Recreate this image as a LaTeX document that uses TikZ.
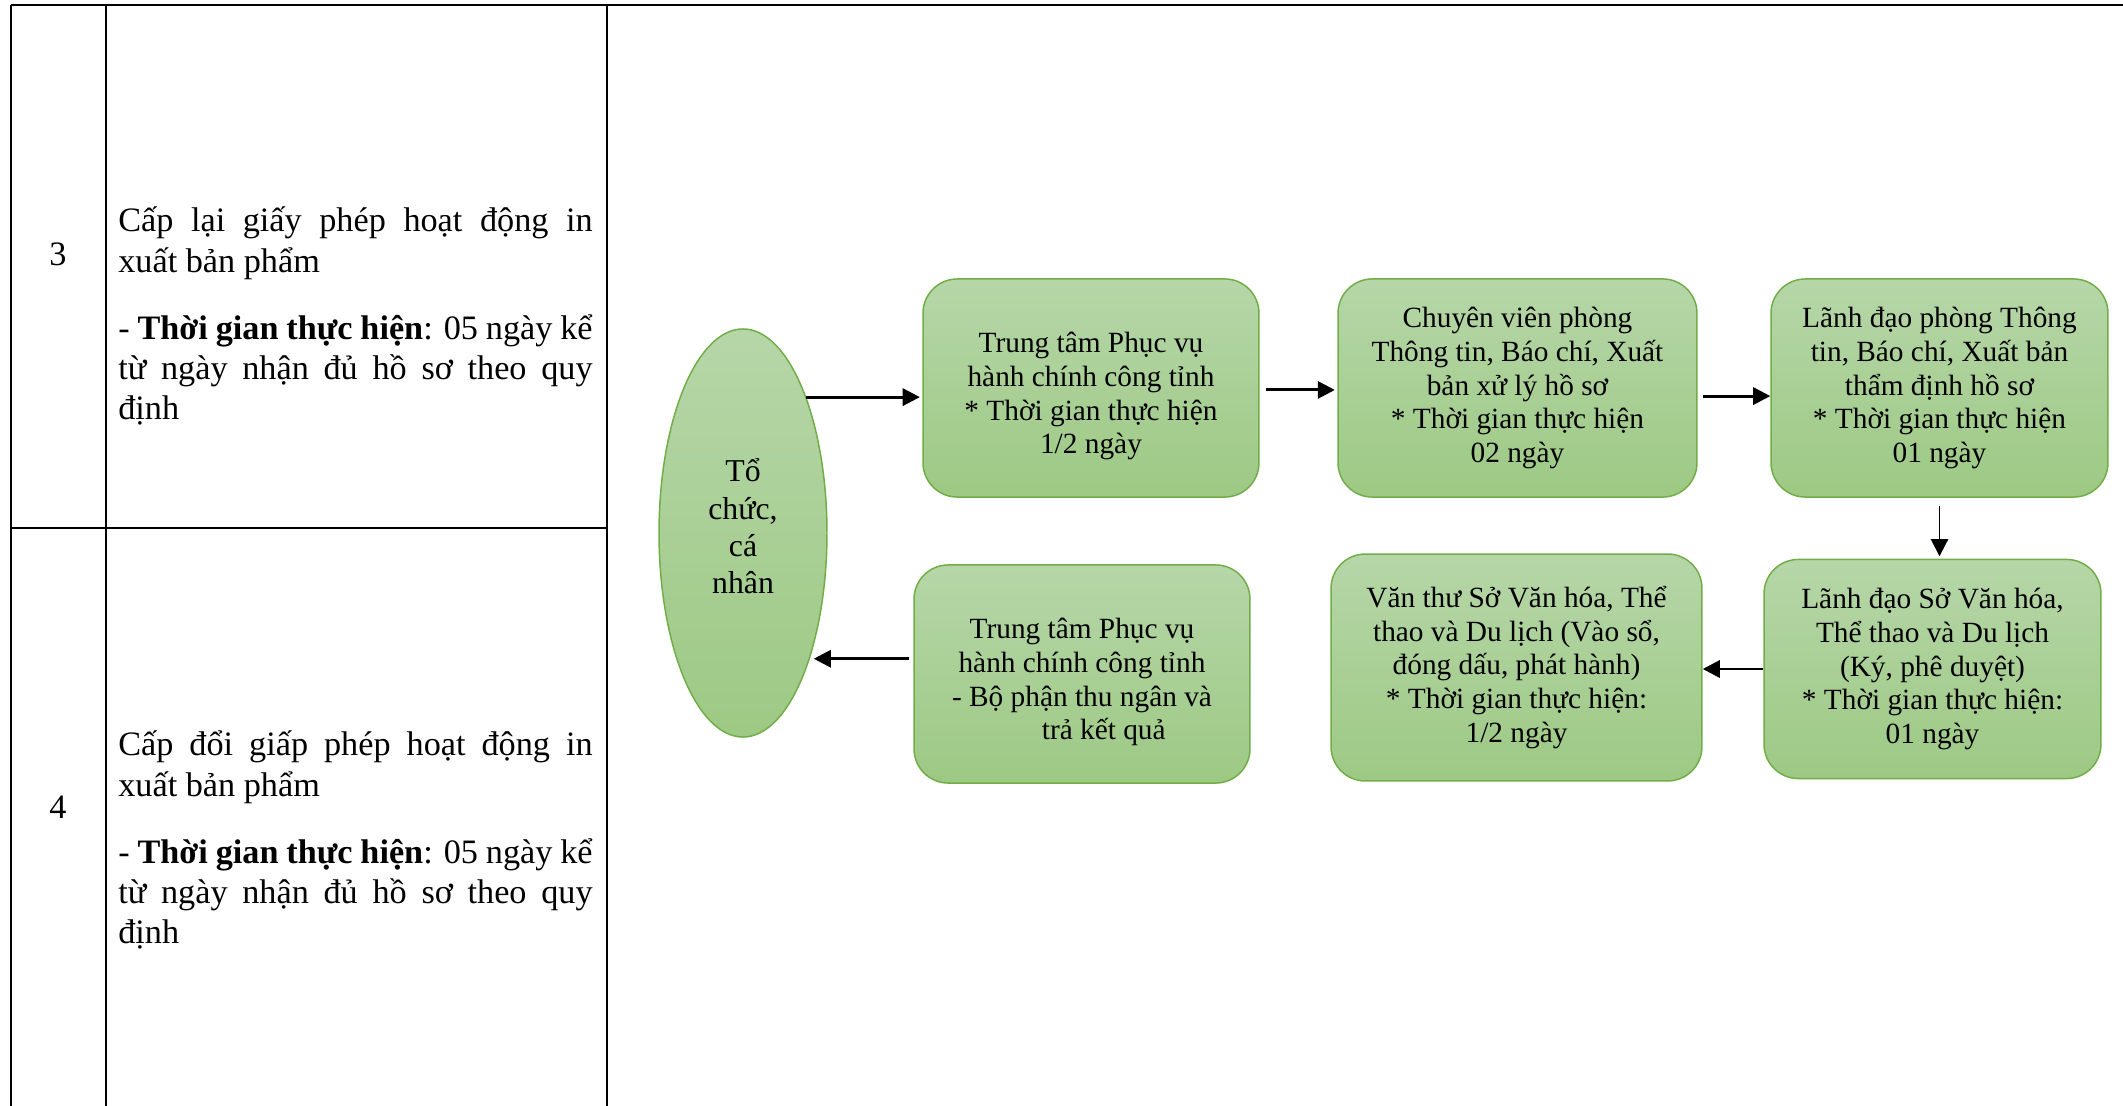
\documentclass[tikz,border=0pt]{standalone}
\usepackage{fontspec}
\setmainfont{Liberation Serif}
\usepackage{xcolor}
\usetikzlibrary{arrows.meta, shapes.geometric, calc, positioning}

\definecolor{boxline}{RGB}{112,173,71}
\definecolor{boxtop}{RGB}{182,214,168}
\definecolor{boxbottom}{RGB}{157,201,132}

\tikzset{
    stepbox/.style={draw=boxline, line width=0.6pt, rounded corners=14pt, top color=boxtop, bottom color=boxbottom,
        align=center, inner sep=2pt, font=\fontsize{12}{13.8}\selectfont},
    flow/.style={-{Triangle[length=7pt, width=7pt]}, line width=1.2pt},
    cell/.style={text width=194pt, align=justify, inner sep=0pt, font=\fontsize{14}{16.4}\selectfont}
}

\begin{document}
\begin{tikzpicture}[x=0.409pt, y=-0.409pt]
    \useasboundingbox (0, 0) rectangle (2123, 1106);

    % table
    \draw[line width=0.85pt]
    (10.8, 5) -- (2123, 5)
    (10.8, 5) -- (10.8, 1106)
    (105.6, 5) -- (105.6, 1106)
    (606.6, 5) -- (606.6, 1106)
    (10.8, 528) -- (606.6, 528);

    \node[font=\fontsize{14}{16.4}\selectfont] (stt3) at (58, 254) {3};
    \node[font=\fontsize{14}{16.4}\selectfont] (stt4) at (58, 807) {4};
    \node[cell] (thutuc3) at (355.5, 316) {Cấp lại giấy phép hoạt động in\linebreak xuất bản phẩm\\[11pt]
        - \textbf{Thời gian thực hiện}: 05 ngày kể\linebreak từ ngày nhận đủ hồ sơ theo quy\linebreak định};
    \node[cell] (thutuc4) at (355.5, 840) {Cấp đổi giấp phép hoạt động in\linebreak xuất bản phẩm\\[11pt]
        - \textbf{Thời gian thực hiện}: 05 ngày kể\linebreak từ ngày nhận đủ hồ sơ theo quy\linebreak định};

    % flow chart
    \node[ellipse, draw=boxline, line width=0.6pt, top color=boxtop, bottom color=boxbottom, minimum width=68.7pt,
        minimum height=166.9pt, inner sep=0pt, align=center, font=\fontsize{13}{15.2}\selectfont]
        (tochuc) at (743, 533) {Tổ\\chức,\\cá\\nhân\rule[-5.6pt]{0pt}{0pt}};

    \node[stepbox, minimum width=137.4pt, minimum height=89.2pt] (tiepnhan) at (1091, 388)
        {\rule{0pt}{15pt}Trung tâm Phục vụ\\hành chính công tỉnh\\* Thời gian thực hiện\\1/2 ngày};
    \node[stepbox, minimum width=146.8pt, minimum height=89.2pt] (chuyenvien) at (1517.5, 388)
        {Chuyên viên phòng\\Thông tin, Báo chí, Xuất\\bản xử lý hồ sơ\\* Thời gian thực hiện\\02 ngày};
    \node[stepbox, minimum width=137.8pt, minimum height=89.2pt] (lanhdaophong) at (1939.5, 388)
        {Lãnh đạo phòng Thông\\tin, Báo chí, Xuất bản\\thẩm định hồ sơ\\* Thời gian thực hiện\\01 ngày};
    \node[stepbox, minimum width=137.8pt, minimum height=89.6pt] (lanhdaoso) at (1932.5, 669)
        {Lãnh đạo Sở Văn hóa,\\Thể thao và Du lịch\\(Ký, phê duyệt)\\* Thời gian thực hiện:\\01 ngày};
    \node[stepbox, minimum width=151.7pt, minimum height=92.8pt] (vanthu) at (1516.5, 667.5)
        {Văn thư Sở Văn hóa, Thể\\thao và Du lịch (Vào sổ,\\đóng dấu, phát hành)\\* Thời gian thực hiện:\\1/2 ngày};
    \node[stepbox, minimum width=137.4pt, minimum height=89.2pt] (trakq) at (1082, 674)
        {\rule{0pt}{15pt}Trung tâm Phục vụ\\hành chính công tỉnh\\- Bộ phận thu ngân và\\\hspace*{17.8pt}trả kết quả};

    \draw[flow, shorten >=1pt] (tochuc.65) -- (tochuc.65 -| tiepnhan.west);
    \draw[flow, shorten <=2.5pt, shorten >=1pt] ([yshift=-0.8pt]tiepnhan.east) -- ([yshift=-0.8pt]tiepnhan.east -| chuyenvien.west);
    \draw[flow, shorten <=2pt] ([yshift=-3.3pt]chuyenvien.east) -- ([yshift=-3.3pt]chuyenvien.east -| lanhdaophong.west);
    \draw[flow, line width=0.8pt, shorten <=3.3pt, shorten >=1pt] (lanhdaophong.south) -- (lanhdaophong.south |- lanhdaoso.north);
    \draw[flow] (lanhdaoso.west) -- (lanhdaoso.west -| vanthu.east);
    \draw[flow, shorten <=1.6pt, shorten >=1.6pt] (trakq.west |- tochuc.-62) -- (tochuc.-62);
\end{tikzpicture}
\end{document}
